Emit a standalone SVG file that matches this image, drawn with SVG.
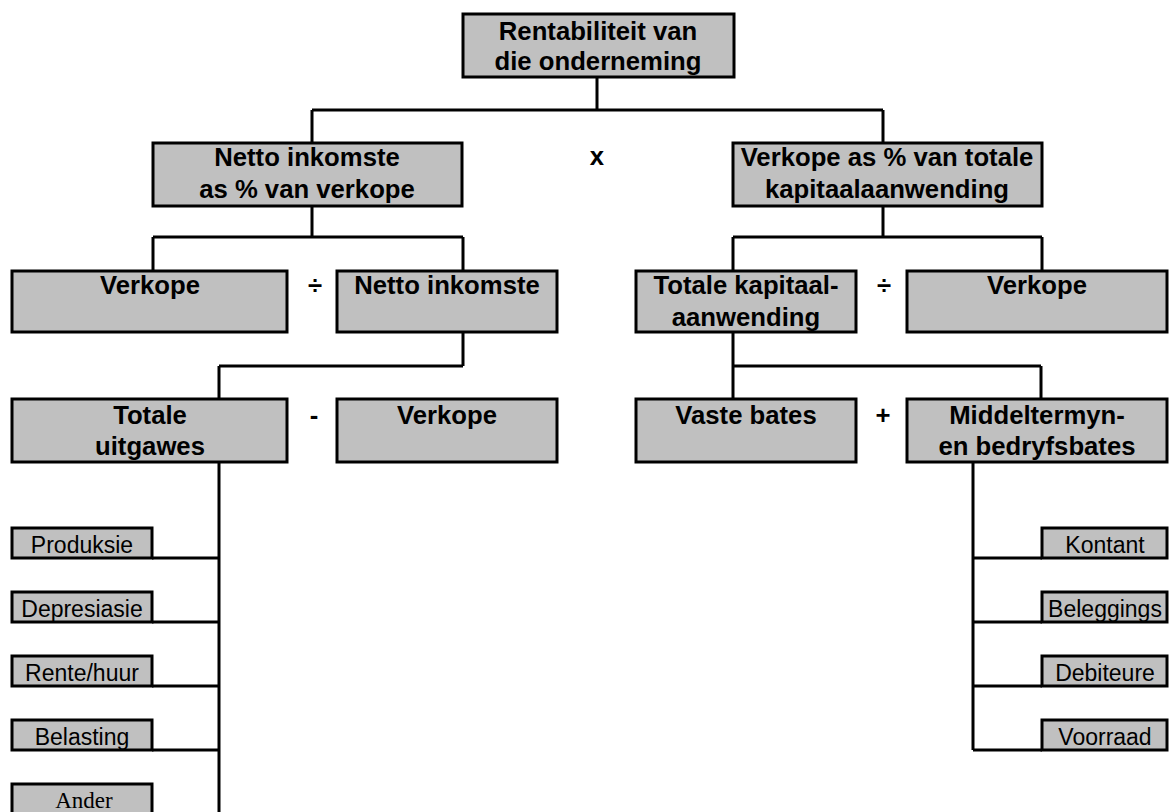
<svg xmlns="http://www.w3.org/2000/svg" width="1172" height="812" viewBox="0 0 1172 812">
<style>
.box{fill:#c0c0c0;stroke:#000;stroke-width:3}
.sbox{fill:#c0c0c0;stroke:#000;stroke-width:3}
.t{font-family:"Liberation Sans",Arial,sans-serif;font-weight:bold;font-size:25.7px;text-anchor:middle;fill:#000}
.s{font-family:"Liberation Sans",Arial,sans-serif;font-size:23px;text-anchor:middle;fill:#000}
.sr{font-family:"Liberation Serif","Times New Roman",serif;font-size:23px;text-anchor:middle;fill:#000}
.ln{fill:none;stroke:#000;stroke-width:3}
</style>
<rect width="1172" height="812" fill="#fff"/>
<g id="connectors" class="ln">
<path d="M597 77V110M312 110H883M312 110V143M883 110V143"/>
<path d="M312 206V237M153 237H463M153 237V271M463 237V271"/>
<path d="M883 206V237M733 237H1042M733 237V271M1042 237V271"/>
<path d="M463 332V366M219 366H463M219 366V399"/>
<path d="M733 332V366M733 366H1041M733 366V399M1041 366V399"/>
<path d="M219 462V812M152 558H219M152 622H219M152 686H219M152 750H219"/>
<path d="M973 462V750M973 558H1042M973 622H1042M973 686H1042M973 750H1042"/>
</g>
<g id="n-rentabiliteit"><rect class="box" x="463" y="14" width="271" height="63"/><text class="t" x="598" y="40">Rentabiliteit van</text><text class="t" x="598" y="70">die onderneming</text></g>
<g id="n-netto-pct"><rect class="box" x="153" y="143" width="309" height="63"/><text class="t" x="307" y="166">Netto inkomste</text><text class="t" x="307" y="198">as % van verkope</text></g>
<g id="op-x"><text class="t" x="597" y="165">x</text></g>
<g id="n-verkope-pct"><rect class="box" x="733" y="143" width="309" height="63"/><text class="t" x="887" y="166">Verkope as % van totale</text><text class="t" x="887" y="198">kapitaalaanwending</text></g>
<g id="n-verkope-l"><rect class="box" x="12" y="271" width="275" height="61"/><text class="t" x="150" y="294">Verkope</text></g>
<g id="op-div-l"><text class="t" x="315" y="294">÷</text></g>
<g id="n-netto"><rect class="box" x="337" y="271" width="220" height="61"/><text class="t" x="447" y="294">Netto inkomste</text></g>
<g id="n-totale-kap"><rect class="box" x="636" y="271" width="220" height="61"/><text class="t" x="746" y="294">Totale kapitaal-</text><text class="t" x="746" y="326">aanwending</text></g>
<g id="op-div-r"><text class="t" x="884" y="294">÷</text></g>
<g id="n-verkope-r"><rect class="box" x="907" y="271" width="260" height="61"/><text class="t" x="1037" y="294">Verkope</text></g>
<g id="n-totale-uit"><rect class="box" x="12" y="399" width="275" height="63"/><text class="t" x="150" y="424">Totale</text><text class="t" x="150" y="455">uitgawes</text></g>
<g id="op-minus"><text class="t" x="314" y="424">-</text></g>
<g id="n-verkope-m"><rect class="box" x="337" y="399" width="220" height="63"/><text class="t" x="447" y="424">Verkope</text></g>
<g id="n-vaste"><rect class="box" x="636" y="399" width="220" height="63"/><text class="t" x="746" y="424">Vaste bates</text></g>
<g id="op-plus"><text class="t" x="883" y="424">+</text></g>
<g id="n-middel"><rect class="box" x="907" y="399" width="260" height="63"/><text class="t" x="1037" y="424">Middeltermyn-</text><text class="t" x="1037" y="455">en bedryfsbates</text></g>
<g id="n-produksie"><rect class="sbox" x="12" y="528" width="140" height="30"/><text class="s" x="82" y="553">Produksie</text></g>
<g id="n-depresiasie"><rect class="sbox" x="12" y="592" width="140" height="30"/><text class="s" x="82" y="617">Depresiasie</text></g>
<g id="n-rente"><rect class="sbox" x="12" y="656" width="140" height="30"/><text class="s" x="82" y="681">Rente/huur</text></g>
<g id="n-belasting"><rect class="sbox" x="12" y="720" width="140" height="30"/><text class="s" x="82" y="745">Belasting</text></g>
<g id="n-ander"><rect class="sbox" x="12" y="784" width="140" height="30"/><text class="sr" x="84" y="808">Ander</text></g>
<g id="n-kontant"><rect class="sbox" x="1042" y="528" width="125" height="30"/><text class="s" x="1105" y="553">Kontant</text></g>
<g id="n-beleggings"><rect class="sbox" x="1042" y="592" width="125" height="30"/><text class="s" x="1105" y="617">Beleggings</text></g>
<g id="n-debiteure"><rect class="sbox" x="1042" y="656" width="125" height="30"/><text class="s" x="1105" y="681">Debiteure</text></g>
<g id="n-voorraad"><rect class="sbox" x="1042" y="720" width="125" height="30"/><text class="s" x="1105" y="745">Voorraad</text></g>
</svg>
